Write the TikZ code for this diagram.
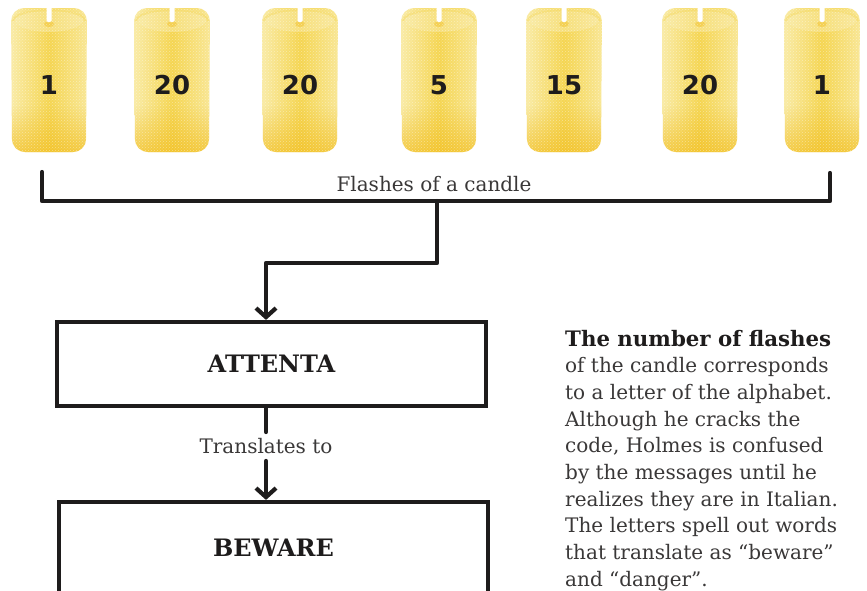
\documentclass[tikz,border=0pt]{standalone}
\usepackage{fontspec}
\setmainfont{DejaVu Serif}
\newfontfamily\numfont{DejaVu Sans}
\usetikzlibrary{arrows.meta,patterns,fadings}

\definecolor{ink}{HTML}{1E1C1C}
\definecolor{txt}{HTML}{3A3838}
\definecolor{waxedge}{HTML}{F9EBA6}
\definecolor{waxmid}{HTML}{F5D550}
\definecolor{waxtop}{HTML}{FAEDB0}
\definecolor{waxbase}{HTML}{F2BE1E}

\tikzset{
  flow/.style={draw=ink, line width=4.2pt, line join=round, line cap=round},
  arr/.style={-{Straight Barb[length=9pt,width=20pt]}},
  msgbox/.style={draw=ink, line width=4.2pt, minimum width=429pt, text=ink,
    font=\bfseries\fontsize{24}{28}\selectfont},
  num/.style={text=ink, font=\numfont\bfseries\fontsize{26}{30}\selectfont},
  label/.style={text=txt, font=\fontsize{20}{24}\selectfont, inner sep=0pt},
  note/.style={text=txt, font=\fontsize{20}{24}\selectfont, inner sep=0pt, anchor=base west},
  waxbody/.style={rounded corners=13pt},
  candle/.pic={
    % wax body, paler towards both sides
    \shade[waxbody, left color=waxedge, right color=waxedge!80!waxmid, middle color=waxmid]
      (-37,152) -- (-38,8) -- (38,8) -- (37,152) -- cycle;
    \begin{scope}
      \clip[waxbody] (-37,152) -- (-38,8) -- (38,8) -- (37,152) -- cycle;
      % warmer glow at the foot
      \fill[waxbase, opacity=.7, path fading=north] (-38,105) rectangle (38,153);
      % top face, a little lighter
      \fill[waxtop, opacity=.45] (0,20) ellipse [x radius=34, y radius=12];
      \draw[waxmid, line width=2pt, opacity=.4]
        (-36,21) arc[start angle=180, end angle=360, x radius=36, y radius=11];
      \fill[waxbase, opacity=.45] (0,24) ellipse [x radius=5, y radius=3];
      % printed halftone texture
      \fill[pattern=crosshatch dots, pattern color=white, opacity=.4]
        (-40,0) rectangle (40,160);
    \end{scope}
    % wick
    \fill[white, rounded corners=1.5pt] (-2.5,6) rectangle (2.5,22);
  }
}

\begin{document}
\begin{tikzpicture}[x=1pt,y=-1pt]
\useasboundingbox (0,0) rectangle (867,590);
\clip (0,0) rectangle (867,590);
\fill[white] (0,0) rectangle (867,590);

% the row of candles with their flash counts
\foreach \cx/\n [count=\i] in {49/1, 172/20, 300/20, 439/5, 564/15, 700/20, 822/1} {
  \pic at (\cx,0) {candle};
  \node[num] (n\i) at (\cx,85) {\n};
}

% bracket gathering the candles
\coordinate (bl) at (42,172);
\coordinate (br) at (830,173);
\coordinate (bj) at (437,201);
\coordinate (bs) at (266,263);
\draw[flow] (bl) |- (bj) -| (br);
\node[label] (flab) at (434,184) {Flashes of a candle};

% decoded word and its translation
\node[msgbox, minimum height=84pt] (attenta) at (271.5,364) {ATTENTA};
\node[msgbox, minimum height=92pt] (beware) at (273.5,548) {BEWARE};

\draw[flow, arr] (bj) |- (bs) -- (bs |- attenta.north);

\node[label, inner ysep=6.5pt] (tlab) at (266,446.5) {Translates to};
\draw[flow] (tlab.north |- attenta.south) -- (tlab.north);
\draw[flow, arr] (tlab.south) -- (tlab.south |- beware.north);

% explanatory note
\node[note, text=ink, font=\bfseries\fontsize{21.3}{24}\selectfont] (head) at (565,346) {The number of flashes};
\foreach \ln [count=\i] in {
  {of the candle corresponds},
  {to a letter of the alphabet.},
  {Although he cracks the},
  {code, Holmes is confused},
  {by the messages until he},
  {realizes they are in Italian.},
  {The letters spell out words},
  {that translate as “beware”},
  {and “danger”.}} {
  \node[note] (note\i) at (565,{346+26.7*\i}) {\ln};
}
\end{tikzpicture}
\end{document}
